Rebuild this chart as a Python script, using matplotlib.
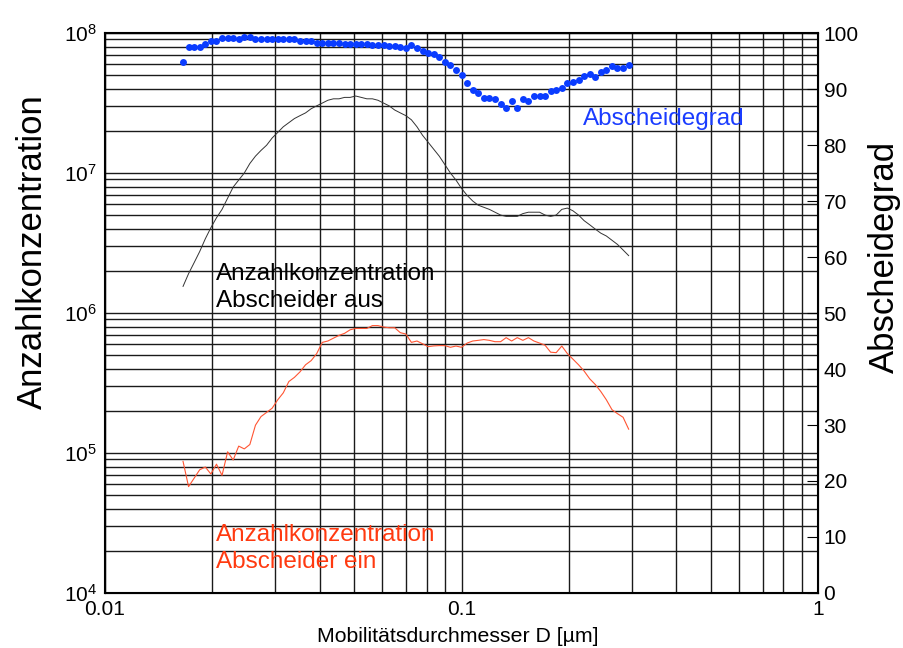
import matplotlib
matplotlib.use('Agg')
import matplotlib.pyplot as plt
from matplotlib.ticker import LogLocator, LogFormatterMathtext, MultipleLocator, NullFormatter

plt.rcParams['font.family'] = ['Liberation Sans', 'DejaVu Sans']
plt.rcParams['mathtext.fontset'] = 'custom'
plt.rcParams['mathtext.rm'] = 'Liberation Sans'

# Mobilitaetsdurchmesser in um (SMPS channels)
durchmesser = [
    0.01655, 0.01715, 0.01778, 0.01843, 0.01911, 0.01981, 0.02054, 0.02129, 0.02207, 0.02288,
    0.02371, 0.02458, 0.02548, 0.02642, 0.02738, 0.02839, 0.02943, 0.03051, 0.03162, 0.03278,
    0.03398, 0.03523, 0.03652, 0.03786, 0.03924, 0.04068, 0.04217, 0.04371, 0.04532, 0.04698,
    0.04870, 0.05048, 0.05233, 0.05425, 0.05623, 0.05829, 0.06043, 0.06264, 0.06494, 0.06732,
    0.06978, 0.07234, 0.07499, 0.07774, 0.08058, 0.08354, 0.08660, 0.08977, 0.09306, 0.09647,
    0.1000, 0.1037, 0.1075, 0.1114, 0.1155, 0.1197, 0.1241, 0.1287, 0.1334, 0.1382,
    0.1433, 0.1486, 0.1540, 0.1596, 0.1655, 0.1715, 0.1778, 0.1843, 0.1911, 0.1981,
    0.2054, 0.2129, 0.2207, 0.2288, 0.2371, 0.2458, 0.2548, 0.2642, 0.2738, 0.2839,
    0.2943,
]

# Anzahlkonzentration, Abscheider aus
konz_aus = [
    1.55e6, 1.91e6, 2.29e6, 2.75e6, 3.39e6, 4.07e6, 4.79e6, 5.50e6, 6.61e6, 7.94e6,
    8.91e6, 1.00e7, 1.17e7, 1.32e7, 1.45e7, 1.58e7, 1.78e7, 1.95e7, 2.14e7, 2.29e7,
    2.45e7, 2.57e7, 2.69e7, 2.88e7, 3.02e7, 3.16e7, 3.31e7, 3.39e7, 3.39e7, 3.47e7,
    3.47e7, 3.55e7, 3.47e7, 3.39e7, 3.39e7, 3.31e7, 3.16e7, 3.02e7, 2.82e7, 2.69e7,
    2.57e7, 2.40e7, 2.14e7, 1.86e7, 1.66e7, 1.48e7, 1.32e7, 1.15e7, 1.00e7, 8.91e6,
    7.76e6, 6.92e6, 6.31e6, 5.89e6, 5.69e6, 5.50e6, 5.25e6, 5.01e6, 4.90e6, 4.90e6,
    4.90e6, 5.13e6, 5.25e6, 5.25e6, 5.25e6, 5.01e6, 4.90e6, 5.01e6, 5.50e6, 5.62e6,
    5.37e6, 5.01e6, 4.57e6, 4.27e6, 3.98e6, 3.72e6, 3.55e6, 3.31e6, 3.09e6, 2.82e6,
    2.57e6,
]

# Anzahlkonzentration, Abscheider ein
konz_ein = [
    8.71e4, 5.75e4, 6.61e4, 7.59e4, 7.94e4, 7.08e4, 8.32e4, 6.92e4, 1.02e5, 8.91e4,
    1.12e5, 1.07e5, 1.15e5, 1.58e5, 1.82e5, 1.95e5, 2.09e5, 2.40e5, 2.69e5, 3.24e5,
    3.47e5, 3.80e5, 4.27e5, 4.57e5, 5.13e5, 6.17e5, 6.31e5, 6.61e5, 6.92e5, 7.16e5,
    7.59e5, 7.76e5, 7.76e5, 7.76e5, 8.13e5, 8.13e5, 7.94e5, 7.85e5, 7.85e5, 7.24e5,
    7.08e5, 6.17e5, 6.31e5, 6.03e5, 5.75e5, 5.82e5, 5.85e5, 5.85e5, 5.69e5, 5.81e5,
    5.69e5, 6.10e5, 6.31e5, 6.38e5, 6.46e5, 6.38e5, 6.24e5, 6.24e5, 6.67e5, 6.31e5,
    6.67e5, 6.38e5, 6.67e5, 6.31e5, 6.10e5, 5.89e5, 5.25e5, 5.21e5, 5.81e5, 5.13e5,
    4.68e5, 4.27e5, 3.85e5, 3.39e5, 3.09e5, 2.75e5, 2.40e5, 2.04e5, 1.91e5, 1.80e5,
    1.48e5,
]

# Abscheidegrad in %
abscheidegrad = [
    94.9, 97.5, 97.5, 97.5, 98.1, 98.6, 98.6, 99.2, 99.1, 99.2,
    98.9, 99.3, 99.3, 98.9, 98.9, 98.9, 98.9, 98.9, 98.9, 98.9,
    98.9, 98.6, 98.6, 98.6, 98.3, 98.3, 98.3, 98.3, 98.3, 98.0,
    98.0, 98.1, 98.1, 98.1, 97.8, 97.8, 97.9, 97.6, 97.6, 97.5,
    97.4, 97.9, 97.3, 96.8, 96.5, 96.3, 95.8, 94.9, 94.3, 93.4,
    92.5, 91.1, 89.9, 89.3, 88.4, 88.4, 88.2, 87.3, 86.7, 87.9,
    86.7, 88.2, 87.9, 88.8, 88.8, 88.8, 89.6, 89.9, 90.2, 91.0,
    91.3, 91.7, 92.3, 92.6, 92.2, 93.1, 93.4, 94.1, 93.7, 93.7,
    94.3,
]

fig = plt.figure(figsize=(9.04, 6.48), dpi=100)
ax = fig.add_axes([0.1162, 0.0849, 0.7887, 0.8641])

ax.set_xscale('log')
ax.set_yscale('log')
ax.set_xlim(0.01, 1)
ax.set_ylim(1e4, 1e8)

ax.grid(True, which='both', color='#1a1a1a', linewidth=1.0)
ax.set_axisbelow(True)

ax.plot(durchmesser, konz_aus, color='#333333', linewidth=0.7)
ax.plot(durchmesser, konz_ein, color='#ff5533', linewidth=0.8)

ax.yaxis.set_major_locator(LogLocator(base=10, numticks=10))
ax.yaxis.set_major_formatter(LogFormatterMathtext())
ax.yaxis.set_minor_locator(LogLocator(base=10, subs=range(2, 10), numticks=20))
ax.yaxis.set_minor_formatter(NullFormatter())
ax.xaxis.set_minor_formatter(NullFormatter())
ax.xaxis.set_major_formatter(plt.FuncFormatter(lambda v, p: f'{v:g}'))
ax.tick_params(which='both', length=0, labelsize=15, pad=6)
ax.tick_params(axis='x', pad=5)
for s in ax.spines.values():
    s.set_linewidth(1.5)

ax2 = ax.twinx()
ax2.set_ylim(0, 100)
ax2.yaxis.set_major_locator(MultipleLocator(10))
ax2.tick_params(axis='y', direction='in', length=8, width=0.8, labelsize=15, pad=4)
ax2.plot(durchmesser, abscheidegrad, linestyle='none', marker='o', markersize=5,
         color='#0a3cff', markeredgewidth=0)

ax.text(0.1557, 0.546, 'Anzahlkonzentration\nAbscheider aus', transform=ax.transAxes,
        fontsize=17.5, color='black', va='center', ha='left', linespacing=1.3)
ax.text(0.1557, 0.080, 'Anzahlkonzentration\nAbscheider ein', transform=ax.transAxes,
        fontsize=17.5, color='#ff3a10', va='center', ha='left', linespacing=1.3)
ax.text(0.6704, 0.847, 'Abscheidegrad', transform=ax.transAxes,
        fontsize=17.5, color='#1a3cff', va='center', ha='left')

fig.text(32 / 904, 1 - 252 / 648, 'Anzahlkonzentration', rotation=90,
         fontsize=25, ha='center', va='center')
fig.text(884 / 904, 1 - 257 / 648, 'Abscheidegrad', rotation=90,
         fontsize=25, ha='center', va='center')
fig.text(458 / 904, 1 - 636 / 648, 'Mobilitätsdurchmesser D [µm]',
         fontsize=15.3, ha='center', va='center')

fig.savefig('out.png', dpi=100)
